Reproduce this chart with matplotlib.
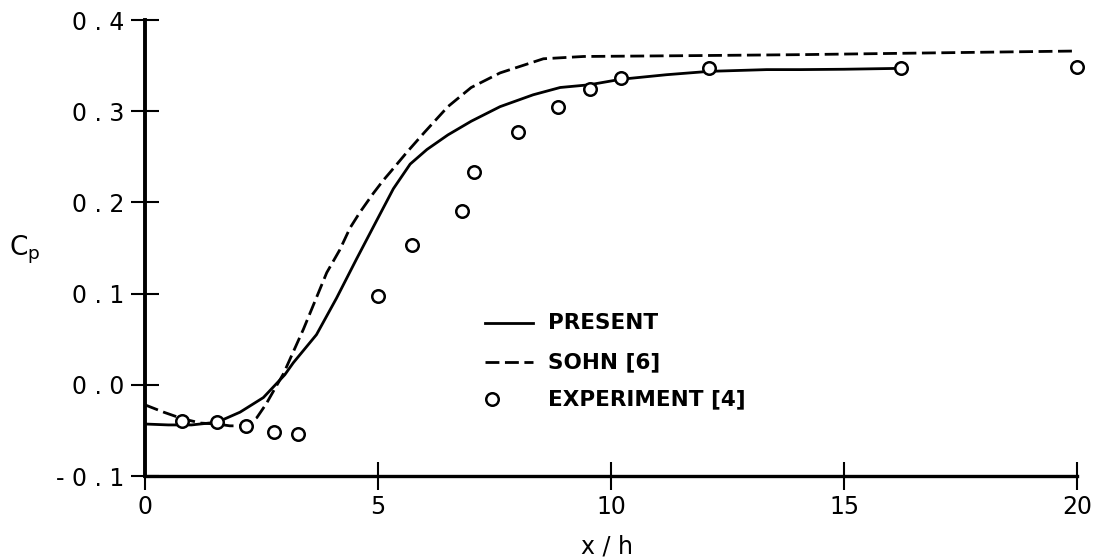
import matplotlib
matplotlib.use("Agg")
import matplotlib.pyplot as plt

# Experiment [4]
x_exp = [0.79, 1.55, 2.17, 2.77, 3.28, 4.99, 5.72, 6.80, 7.07, 8.01,
         8.87, 9.54, 10.21, 12.11, 16.22, 20.0]
cp_exp = [-0.040, -0.041, -0.045, -0.052, -0.054, 0.097, 0.153, 0.191, 0.233, 0.277,
          0.305, 0.324, 0.336, 0.347, 0.347, 0.349]

# Present computation (solid)
x_present = [0.0, 0.5, 1.0, 1.55, 2.04, 2.54, 3.0, 3.18, 3.68, 4.11, 4.54, 4.97,
             5.33, 5.69, 6.05, 6.5, 7.0, 7.62, 8.33, 8.91, 9.54, 10.21, 11.19,
             12.11, 13.34, 14.06, 15.0, 16.24]
cp_present = [-0.043, -0.044, -0.044, -0.041, -0.030, -0.014, 0.011, 0.024, 0.055,
              0.095, 0.138, 0.180, 0.215, 0.242, 0.258, 0.274, 0.289, 0.305, 0.318,
              0.326, 0.329, 0.335, 0.340, 0.3437, 0.3456, 0.3456, 0.346, 0.347]

# Sohn [6] (dashed)
x_sohn = [0.0, 0.4, 0.79, 1.2, 1.55, 1.82, 2.15, 2.4, 2.6, 2.8, 2.97, 3.40, 3.90, 4.18,
          4.40, 4.61, 4.90, 5.11, 5.26, 5.62, 6.0, 6.5, 7.0, 7.62, 8.55, 9.41, 11.9,
          14.06, 17.0, 20.0]
cp_sohn = [-0.022, -0.030, -0.037, -0.042, -0.043, -0.045, -0.045, -0.036, -0.021,
           -0.003, 0.012, 0.061, 0.123, 0.148, 0.172, 0.189, 0.210, 0.224, 0.233, 0.255,
           0.277, 0.305, 0.326, 0.342, 0.3575, 0.360, 0.361, 0.362, 0.364, 0.366]

x_ticks = [0, 5, 10, 15, 20]
y_ticks = [-0.1, 0.0, 0.1, 0.2, 0.3, 0.4]
y_ticklabels = ["- 0 . 1", "0 . 0", "0 . 1", "0 . 2", "0 . 3", "0 . 4"]

fig = plt.figure(figsize=(11.05, 5.59), dpi=100)
ax = fig.add_axes([145 / 1105, 1 - 476 / 559, 932 / 1105, 456 / 559])

ax.plot(x_present, cp_present, color="black", lw=2.0)
ax.plot(x_sohn, cp_sohn, color="black", lw=2.0, dashes=(5, 2))
ax.plot(x_exp, cp_exp, "o", ms=9, mfc="white", mec="black", mew=1.8, clip_on=False, zorder=5)

ax.set_xlim(0, 20)
ax.set_ylim(-0.1, 0.4)
ax.set_xticks(x_ticks)
ax.set_xticklabels([str(t) for t in x_ticks])
ax.set_yticks(y_ticks)
ax.set_yticklabels(y_ticklabels)

for s in ["top", "right"]:
    ax.spines[s].set_visible(False)
ax.spines["left"].set_linewidth(2.8)
ax.spines["bottom"].set_linewidth(2.4)
ax.tick_params(direction="inout", length=20, width=1.5, labelsize=17)
ax.tick_params(axis="y", pad=5)
ax.tick_params(axis="x", pad=4)

# axis labels
fig.text(25 / 1105, 1 - 250 / 559, r"$\mathregular{C_p}$", fontsize=19,
         ha="center", va="center")
fig.text(607 / 1105, 1 - 546 / 559, "x / h", fontsize=17, ha="center", va="center")

# legend drawn by hand
tr = ax.transAxes
ax.plot([0.3648, 0.4163], [0.3355, 0.3355], color="black", lw=2.0, transform=tr)
ax.plot([0.3648, 0.4163], [0.25, 0.25], color="black", lw=2.0, dashes=(5, 2), transform=tr)
ax.plot([0.3723], [0.1689], "o", ms=9, mfc="white", mec="black", mew=1.8, transform=tr)
leg_labels = ["PRESENT", "SOHN [6]", "EXPERIMENT [4]"]
for lab, yy in zip(leg_labels, [0.3355, 0.25, 0.1689]):
    ax.text(0.4324, yy, lab, transform=tr, fontsize=15.5, fontweight="bold",
            ha="left", va="center")

plt.savefig("out.png", dpi=100)
print("Saved out.png")
